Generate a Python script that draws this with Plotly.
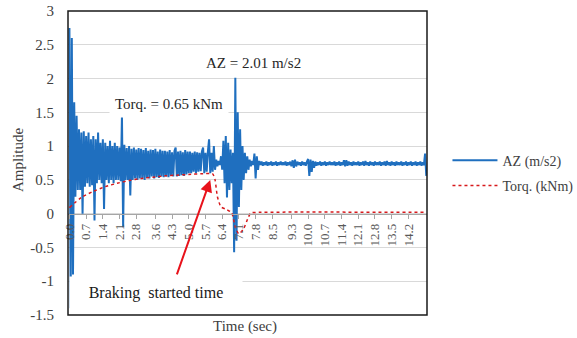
import plotly.graph_objects as go

# ---------------- data ----------------
AZ_DT = 0.05  # sampling step of the AZ record (s)

# AZ (m/s2) samples, one row per second (20 samples per row)
AZ_ROWS = [
    [2.75, -1.4, 2.6, -0.9, 1.65, 0.25, 1.45, 0.35, 1.25, 0.35, 1.2, 0.0, 1.22, 0.4, 1.15, 0.45, 1.2, 0.4, 1.1, 0.42],
    [1.15, -0.1, 1.1, 0.45, 1.2, 0.5, 1.05, 0.45, 1.1, 0.07, 1.05, 0.5, 1.0, 0.45, 1.08, 0.5, 1.0, 0.45, 1.05, 0.5],
    [1.0, 0.5, 0.98, 0.48, 1.45, -0.2, 1.02, 0.5, 0.97, 0.5, 1.0, 0.27, 0.96, 0.5, 0.98, 0.52, 0.95, 0.5, 0.97, 0.52],
    [0.96, 0.52, 0.94, 0.5, 0.97, 0.53, 0.93, 0.52, 0.95, 0.55, 0.94, 0.52, 0.96, 0.54, 0.92, 0.53, 0.95, 0.55, 0.93, 0.54],
    [0.93, 0.55, 0.92, 0.54, 0.94, 0.56, 0.91, 0.55, 0.93, 0.98, 0.55, 0.92, 0.56, 0.93, 0.57, 0.91, 0.56, 0.94, 0.58, 0.92],
    [0.6, 0.92, 0.6, 0.9, 0.62, 0.92, 0.6, 0.91, 0.62, 0.9, 0.63, 0.92, 0.98, 0.6, 0.9, 0.62, 0.92, 1.1, 0.6, 0.9],
    [0.62, 1.0, 0.65, 0.8, 0.7, 0.78, 0.72, 0.85, 0.65, 1.08, 0.45, 1.15, 0.24, 1.05, 0.35, 0.95, 0.45, 0.9, -0.57, 2.01],
    [-0.4, 1.5, 0.1, 1.25, 0.35, 1.0, 0.5, 0.9, 0.6, 0.85, 0.65, 0.8, 0.7, 0.78, 0.72, 0.89, 0.52, 0.85, 0.65, 0.78],
    [0.72, 0.77, 0.71, 0.76, 0.72, 0.77, 0.71, 0.76, 0.72, 0.77, 0.71, 0.76, 0.72, 0.77, 0.71, 0.76, 0.72, 0.77, 0.72, 0.76],
    [0.72, 0.77, 0.71, 0.76, 0.72, 0.77, 0.7, 0.79, 0.68, 0.8, 0.7, 0.77, 0.72, 0.76, 0.71, 0.77, 0.72, 0.76, 0.71, 0.77],
    [0.81, 0.56, 0.8, 0.62, 0.78, 0.68, 0.77, 0.71, 0.76, 0.72, 0.77, 0.71, 0.76, 0.72, 0.77, 0.71, 0.76, 0.72, 0.77, 0.72],
    [0.76, 0.72, 0.77, 0.71, 0.76, 0.72, 0.77, 0.71, 0.76, 0.72, 0.79, 0.7, 0.79, 0.71, 0.77, 0.72, 0.76, 0.71, 0.77, 0.72],
    [0.76, 0.72, 0.77, 0.71, 0.76, 0.72, 0.77, 0.71, 0.78, 0.72, 0.76, 0.71, 0.77, 0.72, 0.76, 0.71, 0.77, 0.72, 0.76, 0.72],
    [0.77, 0.71, 0.76, 0.72, 0.77, 0.71, 0.78, 0.72, 0.76, 0.71, 0.77, 0.72, 0.76, 0.71, 0.77, 0.72, 0.76, 0.72, 0.77, 0.71],
    [0.76, 0.72, 0.77, 0.71, 0.76, 0.72, 0.77, 0.71, 0.76, 0.72, 0.77, 0.71, 0.76, 0.72, 0.77, 0.71, 0.76, 0.72, 0.89, 0.56],
]

# Torque (kNm)
TORQ_T = [0.0, 0.5, 1.0, 1.5, 2.0, 2.5, 3.0, 3.5, 4.0, 4.5, 5.0, 5.5, 6.0, 6.1, 6.2, 6.35,
          6.6, 6.8, 6.95, 7.1, 7.3, 7.5, 7.6, 8.0, 14.95]
TORQ_V = [0.09, 0.24, 0.33, 0.4, 0.45, 0.49, 0.52, 0.54, 0.56, 0.57, 0.58, 0.59, 0.59, 0.5, 0.25, 0.1,
          0.06, 0.01, -0.2, -0.3, -0.22, -0.05, 0.01, 0.02, 0.02]

X_TICK_LABELS = ["0.0", "0.7", "1.4", "2.1", "2.8", "3.6", "4.3", "5.0", "5.7", "6.4", "7.1",
                 "7.8", "8.5", "9.3", "10.0", "10.7", "11.4", "12.1", "12.8", "13.5", "14.2"]
Y_TICKS = [3, 2.5, 2, 1.5, 1, 0.5, 0, -0.5, -1, -1.5]
Y_TICK_LABELS = ["3", "2.5", "2", "1.5", "1", "0.5", "0", "-0.5", "-1", "-1.5"]

SERIES_NAMES = ["AZ (m/s2)", "Torq. (kNm)"]

# ---------------- figure ----------------
AZ = [v for row in AZ_ROWS for v in row]
AZ_T = [round(i * AZ_DT, 2) for i in range(len(AZ))]

FONT = "Liberation Serif, Times New Roman, serif"
BLUE = "#1f6fbf"
RED = "#d7191c"

fig = go.Figure()
fig.add_trace(go.Scatter(x=AZ_T, y=AZ, mode="lines", name=SERIES_NAMES[0],
                         line=dict(color=BLUE, width=2, simplify=False), legendgroup="a"))
fig.add_trace(go.Scatter(x=TORQ_T, y=TORQ_V, mode="lines", name=SERIES_NAMES[1],
                         line=dict(color=RED, width=1.5, dash="dot", shape="spline", smoothing=0.6),
                         legendgroup="b"))

fig.update_layout(
    width=577, height=338,
    margin=dict(l=68, r=150, t=11, b=23, autoexpand=False),
    paper_bgcolor="white", plot_bgcolor="white",
    font=dict(family=FONT, size=15, color="#404040"),
    showlegend=True,
    legend=dict(x=1.057, y=0.56, xanchor="left", yanchor="top",
                font=dict(family=FONT, size=14, color="#404040"),
                tracegroupgap=4, traceorder="grouped", itemwidth=45,
                bgcolor="rgba(0,0,0,0)"),
    xaxis=dict(range=[-0.06, 14.98], anchor="free", position=1.5 / 4.5,
               tickmode="array", tickvals=[float(s) for s in X_TICK_LABELS], ticktext=X_TICK_LABELS,
               tickangle=-90, ticks="outside", ticklen=4, tickcolor="#a6a6a6",
               showline=True, linecolor="#a6a6a6", linewidth=1,
               showgrid=False, zeroline=False, automargin=False,
               tickfont=dict(family=FONT, size=13, color="#595959")),
    yaxis=dict(range=[-1.5, 3], tickmode="array", tickvals=Y_TICKS, ticktext=Y_TICK_LABELS,
               showgrid=True, gridcolor="#d9d9d9", gridwidth=1, zeroline=False, automargin=False,
               showline=False, ticks="outside", ticklen=10, tickcolor="rgba(0,0,0,0)",
               tickfont=dict(family=FONT, size=15, color="#404040")),
)

# plot-area frame
fig.add_shape(type="rect", xref="paper", yref="paper", x0=0, x1=1, y0=0, y1=1,
              line=dict(color="#1a1a1a", width=1.5), layer="above")

fig.add_annotation(x=7.72, y=2.23, xref="x", yref="y", text="AZ = 2.01 m/s2", showarrow=False,
                   font=dict(family=FONT, size=15, color="#262626"))
fig.add_annotation(x=4.16, y=1.63, xref="x", yref="y", text="Torq. = 0.65 kNm", showarrow=False,
                   width=116, height=24, bgcolor="white",
                   font=dict(family=FONT, size=15, color="#262626"))
fig.add_annotation(x=3.64, y=-1.18, xref="x", yref="y", text="Braking\u00a0 started time", showarrow=False,
                   width=170, height=30, bgcolor="white",
                   font=dict(family=FONT, size=16, color="#1a1a1a"))
fig.add_annotation(x=5.9, y=0.5, ax=4.48, ay=-0.92, xref="x", yref="y", axref="x", ayref="y",
                   text="", showarrow=True, arrowhead=2, arrowsize=1.2, arrowwidth=2, arrowcolor="#e8121b")

fig.add_annotation(x=-0.139, y=0.51, xref="paper", yref="paper", xanchor="center", yanchor="middle",
                   text="Amplitude", textangle=-90,
                   showarrow=False, font=dict(family=FONT, size=15, color="#404040"))
fig.add_annotation(x=0.493, y=-0.039, xref="paper", yref="paper", xanchor="center", yanchor="middle",
                   text="Time (sec)",
                   showarrow=False, font=dict(family=FONT, size=15, color="#404040"))

fig.write_html("out.html", config={"displayModeBar": False},
               post_script="document.body.style.margin='0';")
